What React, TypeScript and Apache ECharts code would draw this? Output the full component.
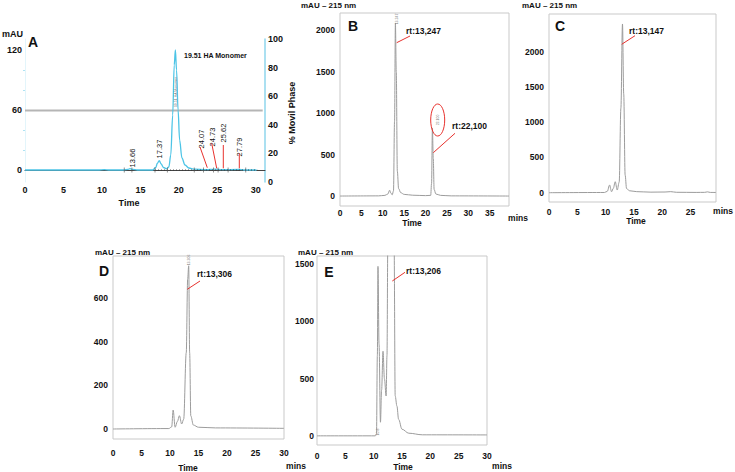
import React, { useEffect, useRef } from "react";
import * as echarts from "echarts";

const FONT = "'Liberation Sans', Arial, Helvetica, sans-serif";

// ---------- Panel A ----------
const aTrace: [number, number][] = [
  [0, 0], [9.5, 0], [10.3, 0.4], [11, 0], [12.8, 0], [13.4, 0.6], [13.66, 1.3], [14, 0.6], [14.6, 0],
  [16.6, 0], [17.0, 2.5], [17.2, 6.5], [17.45, 9.3], [17.7, 6], [18.0, 2.5], [18.4, 1.2], [18.7, 3],
  [18.95, 15], [19.2, 55], [19.4, 105], [19.55, 120], [19.7, 100], [19.9, 60], [20.1, 30], [20.4, 12],
  [20.8, 5], [21.3, 2], [22, 0.8], [23.5, 0.3], [24.1, 0.6], [24.7, 0.8], [25.6, 0.3], [27.8, 0.6],
  [28.5, 0], [30.1, 0],
];
const aMobilePhase: [number, number][] = [[0, 50], [30.9, 50]];
const aDottedBaseline: [number, number][] = [[16.9, 0], [30.2, 0]];
const aIntegrationMarks: [number, number][] = [
  [12.9, 0], [13.9, 0], [16.9, 0], [18.5, 0], [22.0, 0], [23.2, 0], [24.5, 0], [25.1, 0], [26.4, 0], [28.7, 0],
];
const aXTicks = [0, 5, 10, 15, 20, 25, 30];
const aLeftTicks = [0, 60, 120];
const aLeftMinorTicks = [20, 40, 80, 100];
const aRightTicks = [0, 20, 40, 60, 80, 100];

// ---------- Panel B ----------
const bTrace: [number, number][] = [
  [0, 0], [9, 2], [10.5, 8], [11.2, 25], [11.6, 70], [11.9, 35], [12.2, 15], [12.5, 60], [12.75, 900],
  [12.95, 2080], [13.15, 1500], [13.4, 300], [13.7, 90], [14.2, 40], [15, 20], [17, 10], [20, 5],
  [21.2, 8], [21.4, 150], [21.6, 820], [21.8, 450], [22.0, 80], [22.4, 25], [23.5, 8], [26, 2], [39.5, 0],
];
const bXTicks = [0, 5, 10, 15, 20, 25, 30, 35];
const bYTicks = [0, 500, 1000, 1500, 2000];

// ---------- Panel C ----------
const cTrace: [number, number][] = [
  [0, 0], [9.8, 3], [10.3, 20], [10.7, 109], [11.05, 14], [11.35, 60], [11.7, 156], [12.05, 38],
  [12.4, 150], [12.7, 1200], [12.98, 2396], [13.2, 1400], [13.45, 250], [13.7, 60], [14.2, 28],
  [15.5, 15], [18, 8], [20.5, 10], [21.5, 15], [22.5, 6], [26, 4], [27.5, 5], [28, 12], [28.5, 4], [29.5, 3],
];
const cXTicks = [0, 5, 10, 15, 20, 25];
const cYTicks = [0, 500, 1000, 1500, 2000];

// ---------- Panel D ----------
const dTrace: [number, number][] = [
  [0, 0], [9.8, 2], [10.3, 10], [10.55, 87], [10.9, 8], [11.3, 35], [11.65, 61], [12.05, 23],
  [12.4, 45], [12.85, 350], [13.1, 690], [13.28, 750], [13.45, 350], [13.65, 60], [14.1, 18],
  [15, 8], [18, 5], [30, 3],
];
const dXTicks = [0, 5, 10, 15, 20, 25, 30];
const dYTicks = [0, 200, 400, 600];

// ---------- Panel E ----------
const eTrace: [number, number][] = [
  [0, 0], [10.3, 0], [10.5, 20], [10.65, 700], [10.76, 1480], [10.95, 800], [11.2, 119], [11.4, 400],
  [11.65, 739], [11.9, 500], [12.2, 348], [12.35, 700], [12.5, 1700], [13.05, 3200], [13.6, 1700],
  [13.8, 348], [14.1, 261], [14.4, 145], [15, 58], [16.2, 23], [18.6, 9], [30, 8],
];
const eXTicks = [0, 5, 10, 15, 20, 25, 30];
const eYTicks = [0, 500, 1000, 1500];

const plain = (v: number) => String(v);
const lblFont = { fontFamily: FONT, fontWeight: "bold" as const, fontSize: 8.5, color: "#111", formatter: plain };

function txt(x: number, y: number, text: string, size: number, opts: any = {}) {
  return {
    type: "text",
    x,
    y,
    rotation: opts.rotation || 0,
    z: 100,
    style: {
      text,
      x: 0,
      y: 0,
      fontFamily: FONT,
      fontSize: size,
      fontWeight: opts.weight || "bold",
      fill: opts.fill || "#111",
      textAlign: opts.align || "left",
      align: opts.align || "left",
      textVerticalAlign: "middle",
      verticalAlign: "middle",
    },
  };
}
function redLine(x1: number, y1: number, x2: number, y2: number) {
  return { type: "line", z: 100, shape: { x1, y1, x2, y2 }, style: { stroke: "#e8322e", lineWidth: 1 } };
}

function boxX(gridIndex: number, max: number, ticks: number[], margin: number) {
  return {
    type: "value",
    gridIndex,
    min: 0,
    max,
    axisLine: { show: false },
    axisTick: { show: false },
    splitLine: { show: false },
    axisLabel: { ...lblFont, margin, customValues: ticks },
  };
}
function boxY(gridIndex: number, min: number, max: number, ticks: number[], margin: number) {
  return {
    type: "value",
    gridIndex,
    min,
    max,
    axisLine: { show: false },
    axisTick: { show: false },
    splitLine: { show: false },
    axisLabel: { ...lblFont, margin, customValues: ticks },
  };
}
function grayLine(name: string, xi: number, yi: number, data: [number, number][]) {
  return {
    name,
    type: "line",
    xAxisIndex: xi,
    yAxisIndex: yi,
    data,
    showSymbol: false,
    smooth: 0.35,
    smoothMonotone: "x",
    clip: true,
    lineStyle: { color: "#9c9c9c", width: 1 },
  };
}

const rot = (x: number, y: number, t: string) =>
  txt(x, y, t, 7.5, { rotation: Math.PI / 2, align: "center", weight: "normal" });
const tiny = (x: number, y: number, t: string) =>
  txt(x, y, t, 3.5, { rotation: Math.PI / 2, align: "center", weight: "normal", fill: "#777" });

export default function App() {
  const ref = useRef<HTMLDivElement>(null);
  useEffect(() => {
    if (!ref.current) return;
    const chart = echarts.init(ref.current, undefined, { renderer: "svg" });
    const boxGrid = { show: true, borderColor: "#c9c9c9", borderWidth: 1, backgroundColor: "transparent" };
    const option: any = {
      animation: false,
      backgroundColor: "#ffffff",
      grid: [
        { left: 25, right: 470, top: 39, bottom: 290, show: false },
        { left: 340, right: 226, top: 13, bottom: 266, ...boxGrid },
        { left: 549, right: 19, top: 14, bottom: 270, ...boxGrid },
        { left: 113, right: 451, top: 256, bottom: 33, ...boxGrid },
        { left: 317, right: 248, top: 256, bottom: 27, ...boxGrid },
      ],
      xAxis: [
        {
          type: "value",
          gridIndex: 0,
          min: 0,
          max: 31.2,
          axisLine: { show: true, lineStyle: { color: "#444", width: 1 } },
          axisTick: { show: false },
          splitLine: { show: false },
          axisLabel: { ...lblFont, fontSize: 9, margin: 3, customValues: aXTicks },
        },
        boxX(1, 39.5, bXTicks, 2),
        boxX(2, 29.5, cXTicks, 5),
        boxX(3, 30, dXTicks, 9),
        boxX(4, 30, eXTicks, 6),
      ],
      yAxis: [
        {
          type: "value",
          gridIndex: 0,
          position: "left",
          min: -12,
          max: 131,
          axisLine: { show: true, lineStyle: { color: "#e3f5fb", width: 1 } },
          axisTick: { show: true, length: 2, lineStyle: { color: "#aee3f3" }, customValues: aLeftMinorTicks },
          splitLine: { show: false },
          axisLabel: { ...lblFont, fontSize: 9, margin: 3, customValues: aLeftTicks },
        },
        {
          type: "value",
          gridIndex: 0,
          position: "right",
          min: 0,
          max: 100,
          axisLine: { show: true, lineStyle: { color: "#8fd6ec", width: 1.5 } },
          axisTick: { show: false },
          splitLine: { show: false },
          axisLabel: { ...lblFont, fontSize: 9, margin: 3, customValues: aRightTicks },
        },
        boxY(1, -120, 2205, bYTicks, 5),
        boxY(2, -132, 2538, cYTicks, 5),
        boxY(3, -46, 795, dYTicks, 5),
        boxY(4, -80, 1571, eYTicks, 3),
      ],
      series: [
        {
          name: "Mobile phase",
          type: "line",
          xAxisIndex: 0,
          yAxisIndex: 1,
          data: aMobilePhase,
          showSymbol: false,
          lineStyle: { color: "#b5b5b5", width: 2 },
          z: 1,
        },
        {
          name: "A trace",
          type: "line",
          xAxisIndex: 0,
          yAxisIndex: 0,
          data: aTrace,
          showSymbol: false,
          smooth: 0.35,
          smoothMonotone: "x",
          lineStyle: { color: "#4cc4e6", width: 1.3 },
          z: 3,
        },
        {
          name: "A baseline",
          type: "line",
          xAxisIndex: 0,
          yAxisIndex: 0,
          data: aDottedBaseline,
          showSymbol: false,
          lineStyle: { color: "#333", width: 0.8, type: [1, 2] },
          z: 4,
        },
        {
          name: "A marks",
          type: "scatter",
          xAxisIndex: 0,
          yAxisIndex: 0,
          data: aIntegrationMarks,
          symbol: "rect",
          symbolSize: [0.8, 5],
          itemStyle: { color: "#555" },
          z: 4,
        },
        grayLine("B", 1, 2, bTrace),
        grayLine("C", 2, 3, cTrace),
        grayLine("D", 3, 4, dTrace),
        grayLine("E", 4, 5, eTrace),
      ],
      graphic: [
        // Panel A
        txt(2, 34, "mAU", 9),
        txt(33, 42, "A", 14, { align: "center" }),
        txt(184, 55, "19.51 HA Monomer", 7),
        tiny(176, 92, "19.51 HA Monomer"),
        rot(132, 158, "13.66"),
        rot(159, 149, "17.37"),
        rot(201, 139, "24.07"),
        rot(212, 137, "24.73"),
        rot(223, 133, "25.62"),
        rot(239.5, 147, "27.79"),
        redLine(200, 147, 207.3, 167.7),
        redLine(211.7, 143.3, 216.7, 168.3),
        redLine(223.3, 145, 223.3, 168.3),
        redLine(239.3, 153.3, 239.3, 168.3),
        txt(292, 113, "% Movil Phase", 9, { rotation: Math.PI / 2, align: "center" }),
        txt(129, 203, "Time", 9, { align: "center" }),
        // Panel B
        txt(301, 5, "mAU – 215 nm", 8),
        txt(353, 26, "B", 14, { align: "center" }),
        tiny(397.3, 19, "13.247"),
        txt(406, 31, "rt:13,247", 8.5),
        redLine(396.7, 42.7, 410, 36),
        { type: "ellipse", z: 100, shape: { cx: 437.7, cy: 120, rx: 7, ry: 16 }, style: { fill: "none", stroke: "#e8322e", lineWidth: 1 } },
        tiny(437.7, 120, "22.100"),
        txt(452, 126, "rt:22,100", 8.5),
        redLine(433.3, 152.7, 455, 133.3),
        txt(412, 223, "Time", 8.5, { align: "center" }),
        txt(518, 218, "mins", 8.5, { align: "center" }),
        // Panel C
        txt(522, 5, "mAU – 215 nm", 8),
        txt(560, 26, "C", 14, { align: "center" }),
        txt(629, 31, "rt:13,147", 8.5),
        redLine(621.7, 44.3, 635, 35.7),
        txt(636, 221, "Time", 8.5, { align: "center" }),
        txt(723, 211, "mins", 8.5, { align: "center" }),
        // Panel D
        txt(95, 252, "mAU – 215 nm", 8),
        txt(104, 271, "D", 14, { align: "center" }),
        tiny(189, 260, "13.306"),
        txt(197, 274, "rt:13,306", 8.5),
        redLine(187.3, 289.3, 200, 281),
        txt(188, 468, "Time", 8.5, { align: "center" }),
        txt(296, 466, "mins", 8.5, { align: "center" }),
        // Panel E
        txt(298, 252, "mAU – 215 nm", 8),
        txt(329, 272, "E", 14, { align: "center" }),
        tiny(377.7, 432, "10.8"),
        txt(406, 271, "rt:13,206", 8.5),
        redLine(392.3, 281, 405, 272.3),
        txt(403, 467, "Time", 8.5, { align: "center" }),
        txt(502, 466, "mins", 8.5, { align: "center" }),
      ],
    };
    chart.setOption(option);
    return () => chart.dispose();
  }, []);
  return (
    <div
      ref={ref}
      style={{ position: "fixed", left: 0, top: 0, width: 735, height: 472, background: "#fff" }}
    />
  );
}
